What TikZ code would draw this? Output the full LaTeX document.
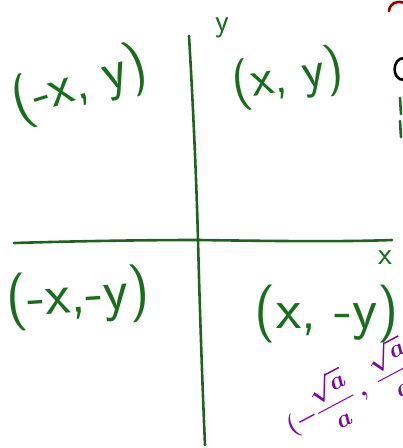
\documentclass[tikz,border=0pt]{standalone}
\usepackage{amsmath}
\definecolor{axisgreen}{RGB}{30,100,30}
\definecolor{txtgreen}{RGB}{25,110,30}
\definecolor{hpurple}{RGB}{120,10,160}
\definecolor{hred}{RGB}{150,0,0}
\begin{document}
\begin{tikzpicture}[x=1pt,y=1pt,
  axis/.style={draw=axisgreen,line width=2.6pt,line cap=round},
  lbl/.style={text=txtgreen,inner sep=0pt},
  axlbl/.style={text=txtgreen,font=\sffamily\fontsize{32}{32}\selectfont,inner sep=0pt},
  ink/.style={line width=2.6pt,line cap=round}]
\useasboundingbox (0,0) rectangle (403,448);
\fill[white] (0,0) rectangle (403,448);
% axes
\coordinate (vt) at (189,412);
\coordinate (vm) at (198,208);
\coordinate (vb) at (205,3);
\coordinate (hl) at (14,205);
\coordinate (hr) at (392,208);
\draw[axis] (vt) .. controls (194,328) and (197,248) .. (vm) .. controls (200,128) and (203,48) .. (vb);
\draw[axis] (hl) .. controls (80,207) and (150,208) .. (vm) .. controls (270,207) and (340,206) .. (hr);
% axis labels
\node[axlbl] (ylab) at (222,420) {y};
\node[axlbl] (xlab) at (385,190) {x};
% quadrant labels
\node[lbl,rotate=17,font=\sffamily\fontsize{56}{56}\selectfont] (q2) at (80,363) {(-x, y)};
\node[lbl,rotate=9,font=\sffamily\fontsize{52}{52}\selectfont] (q1) at (288,370) {(x, y)};
\node[lbl,rotate=4,font=\sffamily\fontsize{58}{58}\selectfont] (q3) at (78,150) {(-x,-y)};
\node[lbl,rotate=0,font=\sffamily\fontsize{58}{58}\selectfont] (q4) at (327,134) {(x, -y)};
% purple partial writing
\node[text=hpurple,anchor=west,rotate=28,inner sep=0pt,font=\fontsize{26}{26}\selectfont] (pw) at (286,22)
  {$\boldsymbol{(-\dfrac{\sqrt{a}}{a}\,,\ \dfrac{\sqrt{a}}{a}}$};
% partial marks at right edge
\draw[ink,draw=hred] (389,437) .. controls (390,445) and (397,448) .. (404,445);
\draw[ink,draw=black] (404,390) .. controls (392,390) and (391,368) .. (404,368);
\draw[ink,draw=txtgreen] (400,350) -- (401,334);
\draw[ink,draw=txtgreen] (400,327) -- (401,311);
\end{tikzpicture}
\end{document}
